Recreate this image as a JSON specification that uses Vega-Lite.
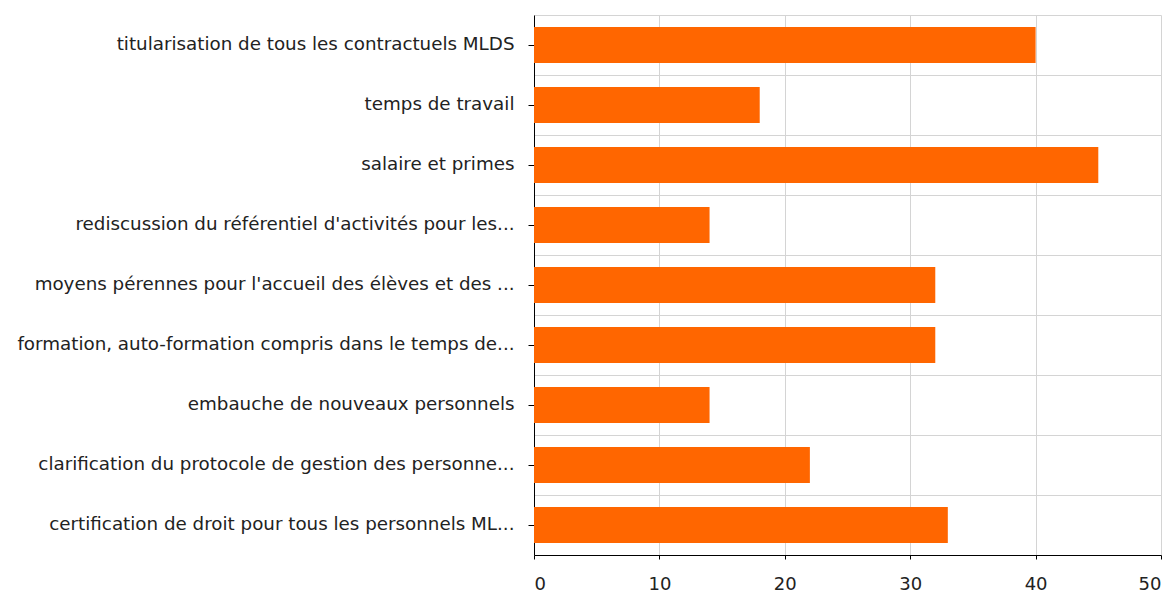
{
  "$schema": "https://vega.github.io/schema/vega-lite/v6.json",
  "width": 627,
  "height": 540,
  "autosize": {"type": "none"},
  "padding": {"left": 534, "top": 15, "right": 13, "bottom": 41},
  "background": "white",
  "config": {"view": {"stroke": null}, "font": "DejaVu Sans"},
  "data": {
    "values": [
      {"label": "titularisation de tous les contractuels MLDS", "value": 40},
      {"label": "temps de travail", "value": 18},
      {"label": "salaire et primes", "value": 45},
      {"label": "rediscussion du référentiel d'activités pour les...", "value": 14},
      {"label": "moyens pérennes pour l'accueil des élèves et des ...", "value": 32},
      {"label": "formation, auto-formation compris dans le temps de...", "value": 32},
      {"label": "embauche de nouveaux personnels", "value": 14},
      {"label": "clarification du protocole de gestion des personne...", "value": 22},
      {"label": "certification de droit pour tous les personnels ML...", "value": 33}
    ]
  },
  "layer": [
    {
      "mark": {"type": "bar", "opacity": 0},
      "encoding": {
        "y": {
          "field": "label", "type": "nominal", "sort": null,
          "scale": {"paddingInner": 0.4, "paddingOuter": 0.2},
          "axis": {"orient": "right", "title": null, "labels": false, "ticks": false, "domain": false, "grid": true, "gridColor": "#d4d4d4", "bandPosition": -0.3333}
        }
      }
    },
    {
      "mark": {"type": "bar", "color": "#FF6600"},
      "encoding": {
        "y": {
          "field": "label", "type": "nominal", "sort": null,
          "scale": {"paddingInner": 0.4, "paddingOuter": 0.2},
          "axis": {"title": null, "grid": false, "domainColor": "#000", "tickColor": "#000", "tickSize": 6, "labelPadding": 14, "labelFontSize": 18.3, "labelColor": "#222", "labelLimit": 700}
        },
        "x": {
          "field": "value", "type": "quantitative",
          "scale": {"domain": [0, 50], "nice": false},
          "axis": {"title": null, "values": [0, 10, 20, 30, 40, 50], "grid": true, "gridColor": "#d4d4d4", "domainColor": "#000", "tickColor": "#000", "tickSize": 4, "labelPadding": 16, "labelFontSize": 18, "labelColor": "#222"}
        }
      }
    }
  ],
  "resolve": {"axis": {"y": "independent"}}
}
